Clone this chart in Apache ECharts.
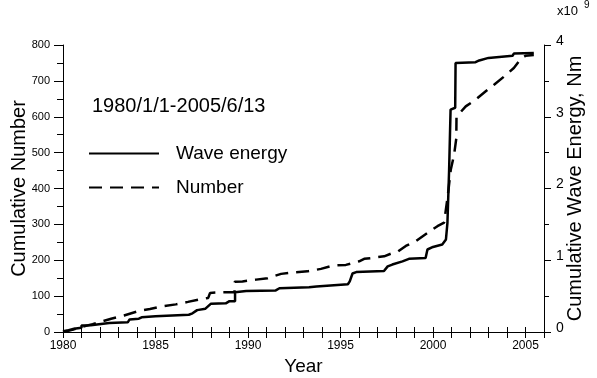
<!DOCTYPE html>
<html><head><meta charset="utf-8">
<script src="https://cdn.jsdelivr.net/npm/echarts@6/dist/echarts.min.js"></script>
<style>html,body{margin:0;padding:0;background:#fff}#c{width:597px;height:378px}</style>
</head><body><div id="c"></div>
<script>
// Cumulative wave energy (units of 1e9 Nm)
const energyYears = [1980.0,1980.3,1980.6,1981.0,1981.0,1981.5,1981.6,1982.5,1983.5,1983.6,1984.1,1984.25,1985.0,1986.8,1987.0,1987.25,1987.7,1988.0,1988.8,1989.0,1989.3,1989.3,1989.9,1991.5,1991.7,1993.3,1993.7,1993.8,1995.4,1995.5,1995.65,1995.85,1997.35,1997.55,1997.8,1998.35,1998.7,1999.6,1999.7,2000.0,2000.5,2000.7,2000.78,2000.87,2000.95,2001.2,2001.22,2002.3,2002.5,2003.0,2004.3,2004.37,2005.45];
const energyValues = [0.01,0.025,0.045,0.06,0.09,0.095,0.11,0.125,0.135,0.175,0.185,0.205,0.22,0.24,0.26,0.305,0.325,0.395,0.4,0.43,0.43,0.555,0.57,0.58,0.61,0.625,0.635,0.655,0.665,0.705,0.815,0.835,0.85,0.915,0.94,0.985,1.02,1.03,1.15,1.185,1.22,1.29,1.52,2.25,3.1,3.125,3.75,3.76,3.785,3.82,3.85,3.88,3.89];
// Cumulative number
const numberYears = [1980.0,1980.5,1981.0,1981.6,1982.0,1982.6,1983.3,1984.05,1984.7,1985.4,1986.1,1986.75,1987.47,1987.85,1987.95,1988.63,1989.27,1989.28,1989.7,1990.44,1991.06,1991.79,1992.41,1993.22,1993.94,1994.57,1995.29,1996.01,1996.28,1996.64,1997.36,1997.8,1998.1,1998.53,1999.1,1999.7,2000.24,2000.6,2000.8,2000.96,2001.14,2001.26,2001.27,2001.77,2002.31,2002.85,2003.3,2003.84,2004.37,2004.64,2004.85,2005.0,2005.45];
const numberValues = [0,6,14,22,28,37,46,58,64,72,77,84,92,95,109,111,111,140,141,146,150,162,166,169,176,185,187,197,204,206,211,220,224,240,254,276,295,305,380,452,494,540,600,629,648,671,689,712,736,754,765,770,772];
const xLabelYears = [1980,1985,1990,1995,2000,2005];
const periodText = '1980/1/1-2005/6/13';
const legendNames = ['Wave energy','Number'];

const FONT = '"Liberation Sans", Arial, sans-serif';
const chart = echarts.init(document.getElementById('c'), null, {renderer:'canvas'});
const zip = (xs, ys) => xs.map((x,i)=>[x, ys[i]]);
const black = {color:'#000', width:1};
const option = {
  animation:false,
  textStyle:{fontFamily:FONT, color:'#000'},
  grid:{left:63,right:53,top:45,bottom:46,containLabel:false,outerBoundsMode:'none'},
  xAxis:[
    {type:'value',position:'bottom',min:1980,max:2006,interval:1,
     axisLine:{lineStyle:black},
     axisTick:{inside:false,length:6,lineStyle:black},
     axisLabel:{color:'#000',fontSize:12,margin:8,fontFamily:FONT,
       formatter:v=>xLabelYears.includes(Math.round(v))&&Math.abs(v-Math.round(v))<1e-6?String(Math.round(v)):''},
     splitLine:{show:false},
     name:'Year',nameLocation:'middle',nameGap:25,nameMoveOverlap:false,
     nameTextStyle:{color:'#000',fontSize:19,fontFamily:FONT}},
    {type:'value',position:'top',min:1980,max:2006,interval:1,
     axisLine:{lineStyle:black},
     axisTick:{inside:false,length:5,lineStyle:black},
     axisLabel:{show:false},splitLine:{show:false}}
  ],
  yAxis:[
    {type:'value',position:'left',min:0,max:800,interval:100,
     axisLine:{show:true,lineStyle:black},
     axisTick:{show:true,length:9,lineStyle:black},
     minorTick:{show:true,splitNumber:2,length:6,lineStyle:black},
     axisLabel:{color:'#000',fontSize:11,margin:13,fontFamily:FONT},
     splitLine:{show:false},
     name:'Cumulative Number',nameLocation:'middle',nameGap:34,nameRotate:90,nameMoveOverlap:false,
     nameTextStyle:{color:'#000',fontSize:20,fontFamily:FONT}},
    {type:'value',position:'right',min:0,max:4,interval:1,
     axisLine:{show:true,lineStyle:black},
     axisTick:{show:true,length:7,lineStyle:black},
     minorTick:{show:true,splitNumber:2,length:5,lineStyle:black},
     axisLabel:{color:'#000',fontSize:14,margin:12,fontFamily:FONT,verticalAlign:'bottom',lineHeight:8},
     splitLine:{show:false},
     name:'Cumulative Wave Energy, Nm',nameLocation:'middle',nameGap:21,nameRotate:90,nameMoveOverlap:false,
     nameTextStyle:{color:'#000',fontSize:20,fontFamily:FONT}}
  ],
  legend:{
    data:legendNames, orient:'vertical', left:83, top:139,
    itemWidth:70, itemHeight:14, itemGap:15,
    itemStyle:{color:'transparent',borderWidth:0,opacity:0},
    textStyle:{fontSize:19,color:'#000',fontFamily:FONT,padding:[0,0,0,12]},
    selectedMode:false
  },
  series:[
    {name:legendNames[0],type:'line',xAxisIndex:0,yAxisIndex:1,
     data:zip(energyYears,energyValues),symbol:'none',
     lineStyle:{color:'#000',width:2.5},itemStyle:{color:'#000'}},
    {name:legendNames[1],type:'line',xAxisIndex:0,yAxisIndex:0,
     data:zip(numberYears,numberValues),symbol:'none',
     lineStyle:{color:'#000',width:2.5,type:[13,8]},itemStyle:{color:'#000'}}
  ],
  graphic:[
    {type:'text',left:92,top:96,style:{text:periodText,fill:'#000',font:'20px '+FONT}},
    {type:'text',left:557,top:5,style:{text:'x10',fill:'#000',font:'13px '+FONT}},
    {type:'text',left:584,top:0,style:{text:'9',fill:'#000',font:'10px '+FONT}}
  ]
};
chart.setOption(option);
</script>
</body></html>
